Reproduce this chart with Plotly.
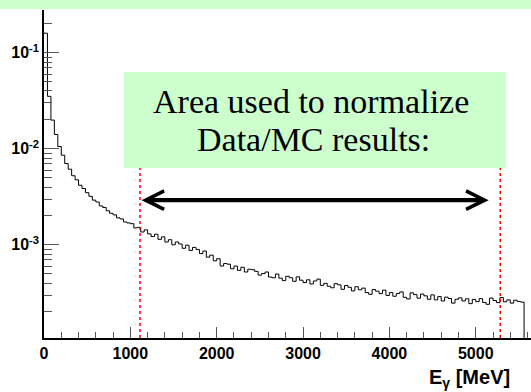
import plotly.graph_objects as go
import math

# ---- data ----
bin_width_mev = 40.0
# normalized counts per 40 MeV bin, in units of 1e-4, starting at E = 0
counts_e4 = [
    1600, 352, 199, 141, 105.5, 85.8, 70.2, 61.3, 52.4, 47.6,
    41.7, 38.6, 34.9, 32.0, 29.2, 27.9, 25.4, 24.5, 22.6, 21.3,
    20.5, 19.1, 18.6, 17.3, 16.9, 16.6, 15.0, 15.2, 13.6, 14.3,
    13.0, 12.2, 12.9, 11.4, 12.1, 10.7, 11.3, 10.0, 10.7, 10.2,
    9.20, 9.90, 8.75, 9.40, 8.95, 8.10, 8.62, 7.44, 7.80, 6.81,
    7.16, 6.01, 6.38, 6.28, 5.63, 6.01, 5.42, 5.84, 5.21, 5.56,
    5.50, 5.29, 4.83, 5.02, 5.21, 4.62, 4.54, 4.96, 4.49, 4.24,
    4.70, 4.54, 4.17, 4.64, 4.28, 4.04, 4.32, 3.91, 4.20, 4.39,
    3.78, 3.97, 3.70, 3.57, 3.94, 3.83, 3.44, 3.77, 3.61, 3.31,
    3.66, 3.40, 3.54, 3.18, 3.05, 3.42, 3.29, 3.10, 3.37, 2.97,
    3.18, 2.91, 3.11, 3.23, 2.84, 2.73, 3.16, 3.03, 2.78, 3.07,
    2.94, 2.71, 3.01, 2.67, 2.89, 2.60, 2.85, 2.76, 2.47, 2.71,
    2.80, 2.60, 2.74, 2.44, 2.70, 2.56, 2.75, 2.51, 2.40, 2.79,
    2.63, 2.50, 2.82, 2.55, 2.67, 2.47, 2.65, 2.57, 2.53,
]
counts = [c * 1e-4 for c in counts_e4]

norm_low_mev = 1112      # red dotted line, left
norm_high_mev = 5284     # red dotted line, right
arrow_left_mev = 1112
arrow_right_mev = 5150
arrow_level = 2.92e-3

x_range = [0, 5640]
y_range = [1.07e-4, 0.279]
y_major = [1e-3, 1e-2, 1e-1]
y_major_text = ["10<sup>-3</sup>", "10<sup>-2</sup>", "10<sup>-1</sup>"]

box_lines = ["Area used to normalize", "Data/MC results:"]
x_title = "E<sub>\u03b3</sub> [MeV]"

GREEN = "#ccffcc"

# ---- histogram outline ----
edges = [i * bin_width_mev for i in range(len(counts) + 1)]
xs = edges[:]
ys = counts + [counts[-1]]
xs = xs + [edges[-1]]
ys = ys + [y_range[0] * 0.5]

fig = go.Figure()
fig.add_trace(go.Scatter(
    x=xs, y=ys, mode="lines", line=dict(color="black", width=1, shape="hv"),
    hoverinfo="skip", showlegend=False,
))

# plot area in pixels: l=44, r=0, t=10, b=54
W, H = 531, 392
ml, mr, mt, mb = 44, 0, 10, 54
pw, ph = W - ml - mr, H - mt - mb

def px_x(p):
    return (p - ml) / pw

def px_y(p):
    return (H - mb - p) / ph

shapes = []
shapes.append(dict(type="rect", xref="paper", yref="paper",
                   x0=px_x(0) - 0.01, x1=px_x(W) + 0.01, y0=px_y(9), y1=px_y(-2),
                   fillcolor=GREEN, line=dict(width=0), layer="above"))
shapes.append(dict(type="rect", xref="paper", yref="paper",
                   x0=px_x(124), x1=px_x(506), y0=px_y(168), y1=px_y(72),
                   fillcolor=GREEN, line=dict(width=0), layer="above"))
for xv in (norm_low_mev, norm_high_mev):
    shapes.append(dict(type="line", xref="x", yref="paper",
                       x0=xv, x1=xv, y0=0, y1=px_y(168),
                       line=dict(color="red", width=1.5, dash="dot"), layer="above"))

serif = dict(family="Liberation Serif", size=34, color="black")
annotations = [
    dict(text=box_lines[0], xref="paper", yref="paper", x=px_x(311), y=px_y(101),
         xanchor="center", yanchor="middle", showarrow=False, font=serif),
    dict(text=box_lines[1], xref="paper", yref="paper", x=px_x(313), y=px_y(139),
         xanchor="center", yanchor="middle", showarrow=False, font=serif),
    dict(text="", xref="x", yref="y", x=arrow_right_mev, y=math.log10(arrow_level),
         axref="x", ayref="y", ax=arrow_left_mev, ay=math.log10(arrow_level),
         showarrow=True, arrowside="end+start", arrowhead=5, startarrowhead=5,
         arrowwidth=4.3, arrowsize=0.85, startarrowsize=0.85, arrowcolor="black",
         standoff=0, startstandoff=0),
    dict(text=x_title, xref="paper", yref="paper", x=px_x(512), y=px_y(364),
         xanchor="right", yanchor="top", showarrow=False,
         font=dict(family="Liberation Sans", size=20, color="black", weight="bold")),
]

tick_font = dict(family="Liberation Sans", size=16, color="black", weight="bold")

fig.update_layout(
    width=W, height=H,
    margin=dict(l=ml, r=mr, t=mt, b=mb, pad=0),
    paper_bgcolor="white", plot_bgcolor="white",
    shapes=shapes, annotations=annotations,
    xaxis=dict(range=x_range, showline=True, linecolor="black", linewidth=1.5,
               ticks="inside", ticklen=11, tickcolor="#555", tickwidth=1,
               tick0=0, dtick=1000, tickfont=tick_font, automargin=False,
               minor=dict(ticks="inside", ticklen=6, dtick=200, tick0=0,
                          tickcolor="#555", tickwidth=1),
               showgrid=False, zeroline=False),
    yaxis=dict(type="log", range=[math.log10(y_range[0]), math.log10(y_range[1])],
               showline=True, linecolor="black", linewidth=1.5,
               ticks="inside", ticklen=15, tickcolor="#555", tickwidth=1,
               tickmode="array", tickvals=y_major, ticktext=y_major_text,
               tickfont=tick_font, automargin=False,
               minor=dict(ticks="inside", ticklen=8, dtick="D1",
                          tickcolor="#555", tickwidth=1),
               showgrid=False, zeroline=False),
)

fig.write_html("out.html", config={"displayModeBar": False},
               post_script="document.body.style.margin='0';")
